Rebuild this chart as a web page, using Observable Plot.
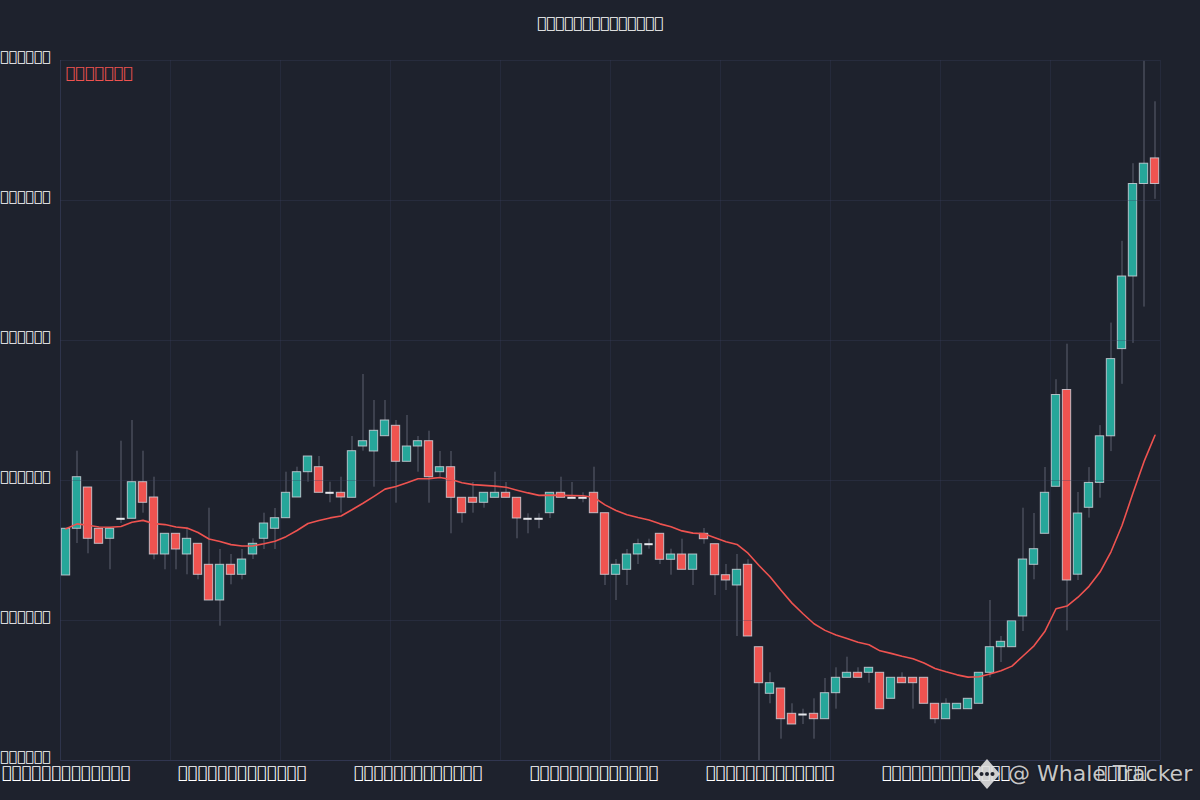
<!DOCTYPE html>
<html>
<head>
<meta charset="utf-8">
<script src="https://cdn.jsdelivr.net/npm/d3@7"></script>
<script src="https://cdn.jsdelivr.net/npm/@observablehq/plot@0.6"></script>
<style>
  html, body { margin: 0; padding: 0; background: #1e222d; }
  #wrap { position: relative; width: 1200px; height: 800px; overflow: hidden; font-family: "DejaVu Sans", sans-serif; }
  #title { position: absolute; top: 16px; left: 0; width: 1200px; text-align: center; color: #ffffff; font-size: 15px; line-height: 15px; }
  #wm { position: absolute; left: 974px; top: 759px; display: flex; align-items: center; gap: 8px; color: rgba(225,225,225,0.88); font-size: 22px; line-height: 28px; text-shadow: 0 0 2px rgba(0,0,0,0.6); }
</style>
</head>
<body>
<div id="wrap">
  <div id="chart"></div>
  <div id="title"></div>
  <div id="wm"><svg width="26" height="30" viewBox="0 0 26 30"><polygon points="13,0 26,15 13,30 0,15" fill="rgba(225,225,225,0.9)"/><circle cx="7.5" cy="15" r="2" fill="#1e222d"/><circle cx="13" cy="15" r="2" fill="#1e222d"/><circle cx="18.5" cy="15" r="2" fill="#1e222d"/></svg><span>@ Whale Tracker</span></div>
</div>
<script>
// ---- text (rendered glyphs in the reference are unreadable boxes) ----
const box = "\uE000";
const titleText = box.repeat(14);
const legendLabel = box.repeat(7);
const yTickLabels = [box.repeat(6), box.repeat(6), box.repeat(6), box.repeat(6), box.repeat(6), box.repeat(6)];
const xTickLabels = [box.repeat(13), box.repeat(13), box.repeat(13), box.repeat(13), box.repeat(13), box.repeat(13), box.repeat(5)];

// ---- data ----
const yTicks = [2000, 2140, 2280, 2420, 2560, 2700];
const xTickIdx = [0, 16, 32, 48, 64, 80, 96];
const gridXIdx = [-0.5, 9.5, 19.5, 29.5, 39.5, 49.5, 59.5, 69.5, 79.5, 89.5, 99.5];

const open = [2185,2231.7,2273,2231.7,2221.7,2241.7,2241.7,2278.3,2263,2206,
2226.7,2206,2216.7,2195.7,2160,2195.7,2185.7,2206,2221.7,2231.7,
2242.3,2263,2288.3,2293.3,2267.7,2267.7,2262.7,2314,2309,2324.3,
2334.7,2298.7,2314,2319.3,2288.3,2293.3,2262.7,2262.7,2257.7,2262.7,
2267.7,2262.7,2241.7,2241.7,2247.3,2267.7,2262.7,2262.7,2267.7,2247.3,
2185.7,2190.7,2206,2216.3,2226.7,2200.7,2206,2190.7,2226.7,2216.3,
2185.3,2175,2195.7,2113.3,2066.7,2072,2046.7,2046,2046.7,2041.3,
2067.3,2082.7,2087.7,2087.7,2087.7,2061.7,2082.7,2082.7,2082.7,2056.7,
2041.3,2051.3,2051.3,2056.7,2087.7,2113.3,2113.3,2144,2195.7,2226.7,
2273.7,2370.5,2185.8,2252.7,2277.6,2324.2,2411.4,2484,2576.5,2602.1];

const close = [2231.7,2283.3,2221.7,2216.7,2231.7,2241.7,2278.3,2257.7,2206,2226.7,
2211,2221.7,2185.7,2160,2195.7,2185.7,2201,2216.7,2237,2242.3,
2267.7,2288.3,2304,2267.7,2267.7,2263,2309.3,2319.3,2329.7,2340,
2298.7,2314,2319.3,2283.3,2293.3,2262.7,2247.3,2257.7,2267.7,2267.7,
2262.7,2242,2241.7,2241.7,2267.7,2262.7,2262.7,2262.7,2247.3,2185.7,
2195.7,2206,2216.3,2216.3,2200.7,2206,2190.7,2206,2221.3,2185.3,
2180,2190.7,2124,2077.3,2077.3,2041.3,2036,2046,2041.3,2067.3,
2082.7,2087.7,2082.7,2092.7,2051.3,2082.7,2077.3,2077.3,2056.7,2041.3,
2056.7,2056.7,2061.7,2087.7,2113.3,2118.7,2139.3,2201,2211.3,2267.7,
2365.5,2180,2247,2277.6,2324.2,2401.4,2484,2576.5,2596.8,2576.5];

const high = [2231.7,2309.3,2273,2231.7,2231.7,2319.3,2340,2309.3,2283.3,2226.7,
2226.7,2231.7,2216.7,2252.3,2211,2206,2211,2221.7,2247.3,2252,
2288.3,2293.3,2304,2304,2278.3,2283.3,2324,2386,2360,2360,
2340,2345,2324,2329.3,2309,2309,2262.7,2278,2267.7,2288.3,
2278,2262.7,2246.7,2246.7,2267.7,2283.3,2278,2267.7,2293.3,2247.3,
2201,2211,2221.3,2221.3,2226.7,2211.3,2221.3,2206,2232,2216.3,
2196,2206,2200.7,2113.3,2087.7,2072,2056.7,2051.3,2061.7,2082,
2092.7,2103.3,2092.7,2092.7,2087.7,2082.7,2087.7,2082.7,2082.7,2056.7,
2061.7,2056.7,2061.7,2087.7,2160,2124,2139.3,2252.3,2247,2293,
2380.8,2416.3,2268,2292.9,2334.9,2437.4,2519.2,2596.8,2699.2,2658.7];

const low = [2185,2217,2206.7,2216.7,2190.7,2237,2241.7,2247.3,2200.7,2190.7,
2190.7,2185.7,2180.7,2160,2134.3,2175.7,2180.7,2201,2211,2211,
2242.3,2263,2278.3,2267.7,2257.7,2247.3,2262.7,2309.3,2273.3,2324.3,
2257.3,2298.7,2288.3,2257.3,2283.3,2226.7,2237.3,2247.3,2252.3,2262.7,
2262.7,2221.7,2226.7,2231.7,2242,2262.7,2262.7,2257.7,2247.3,2175,
2160,2175,2196,2211.3,2196,2185.3,2190.7,2175,2216.3,2165,
2170,2124,2124,2000,2056.7,2021.3,2036,2036,2021.3,2041.3,
2051.3,2082.7,2082.7,2077.3,2051.3,2061.7,2077.3,2051.3,2056.7,2036.7,
2041.3,2051.3,2051.3,2056.7,2082.7,2098,2113.3,2129,2180.7,2226.7,
2273.7,2129.6,2180,2242.4,2262.3,2308.9,2376.2,2417.1,2453.4,2561.2];

const emaPeriod = 20;

// ---- derived table ----
const rows = open.map((o, i) => ({i, open: o, high: high[i], low: low[i], close: close[i]}));
const bodies = rows.filter(d => d.open !== d.close);
const dojis = rows.filter(d => d.open === d.close);
const k = 2 / (emaPeriod + 1);
const ema = [];
close.forEach((c, i) => {
  const prev = i === 0 ? c : ema[i - 1].v;
  ema.push({i, v: i === 0 ? c : prev + k * (c - prev)});
});

const half = 0.38;
const UP = "#26a69a", DOWN = "#ef5350";
const GRID = "#3a4060";

const chart = Plot.plot({
  width: 1200,
  height: 800,
  marginTop: 60,
  marginBottom: 40,
  marginLeft: 60,
  marginRight: 40,
  style: {background: "#1e222d", color: "#ffffff", fontFamily: "DejaVu Sans", overflow: "visible"},
  x: {type: "linear", domain: [-0.5, 99.5], axis: null},
  y: {domain: [2000, 2700], axis: null},
  marks: [
    Plot.ruleX(rows, {x: "i", y1: "low", y2: "high", stroke: "#5d6170", strokeWidth: 1}),
    Plot.rectY(bodies, {
      x1: d => d.i - half, x2: d => d.i + half,
      y1: "open", y2: "close",
      fill: d => d.close > d.open ? UP : DOWN,
      stroke: "#d4d7de", strokeOpacity: 0.8, strokeWidth: 1
    }),
    Plot.ruleY(dojis, {y: "close", x1: d => d.i - half, x2: d => d.i + half, stroke: "#e6e8ec", strokeWidth: 2}),
    Plot.ruleY(yTicks, {stroke: GRID, strokeOpacity: 0.32, strokeWidth: 1}),
    Plot.ruleX(gridXIdx, {stroke: GRID, strokeOpacity: 0.28, strokeWidth: 1}),
    Plot.ruleY([2000], {stroke: GRID, strokeOpacity: 0.55}),
    Plot.ruleX([-0.5], {stroke: GRID, strokeOpacity: 0.45}),
    Plot.line(ema, {x: "i", y: "v", stroke: DOWN, strokeWidth: 1.6}),
    Plot.text(yTicks, {y: d => d, frameAnchor: "left", dx: -10, dy: -4, textAnchor: "end", lineAnchor: "middle",
      text: (d, j) => yTickLabels[j], fill: "#ffffff", fontSize: 14}),
    Plot.text(xTickIdx, {x: d => d, frameAnchor: "bottom", dy: 12.5, lineAnchor: "middle",
      text: (d, j) => xTickLabels[j], fill: "#ffffff", fontSize: 16.5}),
    Plot.text([legendLabel], {frameAnchor: "top-left", dx: 5, dy: 12, textAnchor: "start", lineAnchor: "middle",
      text: d => d, fill: DOWN, fontSize: 16})
  ]
});
document.getElementById("chart").appendChild(chart);
document.getElementById("title").textContent = titleText;
</script>
</body>
</html>
